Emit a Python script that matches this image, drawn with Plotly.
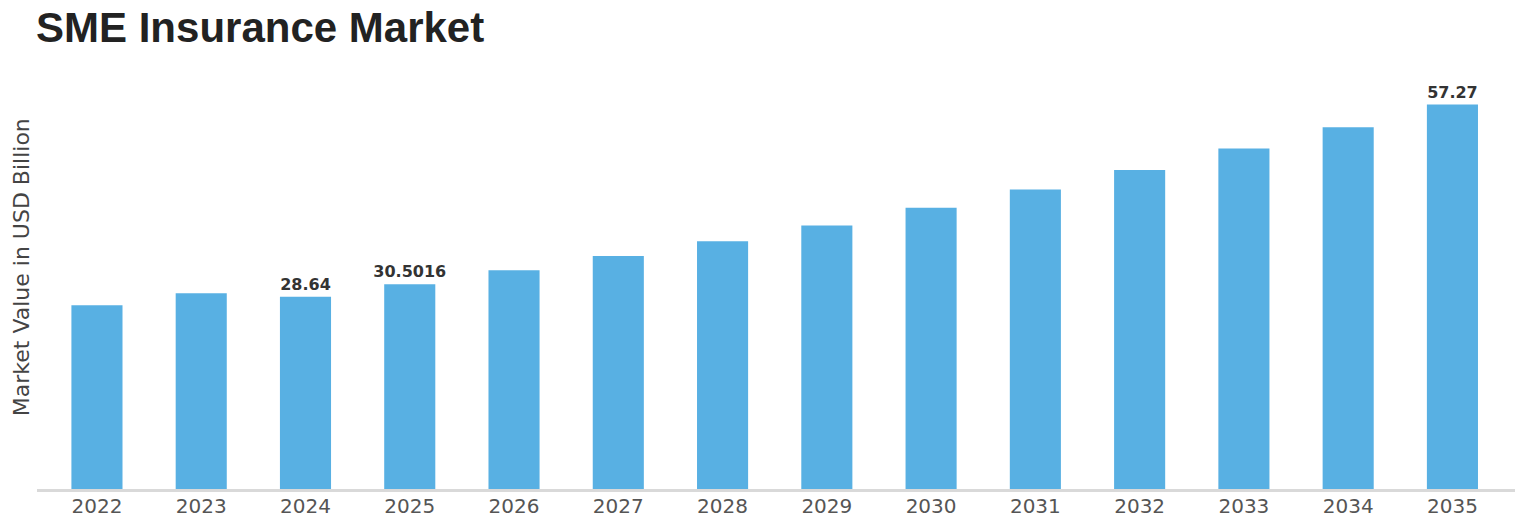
import plotly.graph_objects as go

# values (USD billion)
years = ["2022", "2023", "2024", "2025", "2026", "2027", "2028",
         "2029", "2030", "2031", "2032", "2033", "2034", "2035"]
market_value = [27.36, 29.15, 28.64, 30.5016, 32.6, 34.7, 36.9,
                39.25, 41.9, 44.6, 47.5, 50.7, 53.9, 57.27]
labelled_years = ["2024", "2025", "2035"]

bar_text = [str(v) if y in labelled_years else "" for y, v in zip(years, market_value)]

fig = go.Figure()
fig.add_trace(go.Bar(
    x=years,
    y=market_value,
    width=0.49,
    marker=dict(color="#58b0e3", line=dict(width=0)),
    text=bar_text,
    textposition="outside",
    constraintext="none",
    textfont=dict(family="DejaVu Sans", size=16, color="#333333"),
    texttemplate="<b>%{text}</b>",
    cliponaxis=False,
    hoverinfo="x+y",
))

# y axis title as an annotation so it does not push the plot area
fig.add_annotation(
    text="Market Value in USD Billion",
    xref="paper", yref="paper",
    x=0, y=0.517,
    xanchor="center", yanchor="middle",
    xshift=-16,
    textangle=-90,
    showarrow=False,
    font=dict(family="DejaVu Sans", size=22, color="#444444"),
)

# page body adds an 8px offset, so the figure is 8px smaller than the window
fig.update_layout(
    width=1515,
    height=517,
    paper_bgcolor="white",
    plot_bgcolor="white",
    showlegend=False,
    margin=dict(l=29, r=8, t=52, b=36),
    title=dict(
        text="<b>SME Insurance Market</b>",
        x=0.0185, xanchor="left",
        xref="container",
        y=1 - 19 / 517, yanchor="middle",
        yref="container",
        font=dict(family="Liberation Sans, Arial", size=42, color="#222222"),
    ),
    xaxis=dict(
        type="category",
        range=[-0.575, 13.6],
        showgrid=False,
        showline=True,
        linecolor="#d9d9d9",
        linewidth=3,
        ticks="",
        automargin=False,
        ticklabelstandoff=-3,
        tickfont=dict(family="DejaVu Sans", size=20, color="#555555"),
    ),
    yaxis=dict(
        range=[0, 63.9],
        showgrid=False,
        zeroline=False,
        showline=False,
        showticklabels=False,
        ticks="",
        automargin=False,
    ),
)

fig.write_html("out.html")
